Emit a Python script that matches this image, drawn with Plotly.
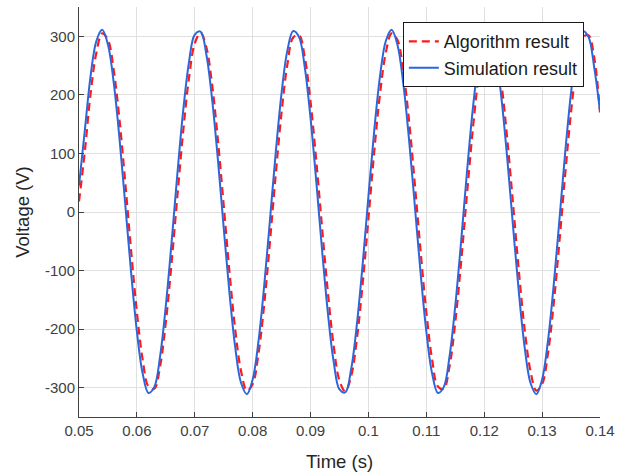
import plotly.graph_objects as go

# Sampling instants (s)
time_s = [0.050, 0.051, 0.052, 0.053, 0.054, 0.055, 0.056, 0.057, 0.058, 0.059,
          0.060, 0.061, 0.062, 0.063, 0.064, 0.065, 0.066, 0.067, 0.068, 0.069,
          0.070, 0.071, 0.072, 0.073, 0.074, 0.075, 0.076, 0.077, 0.078, 0.079,
          0.080, 0.081, 0.082, 0.083, 0.084, 0.085, 0.086, 0.087, 0.088, 0.089,
          0.090, 0.091, 0.092, 0.093, 0.094, 0.095, 0.096, 0.097, 0.098, 0.099,
          0.100, 0.101, 0.102, 0.103, 0.104, 0.105, 0.106, 0.107, 0.108, 0.109,
          0.110, 0.111, 0.112, 0.113, 0.114, 0.115, 0.116, 0.117, 0.118, 0.119,
          0.120, 0.121, 0.122, 0.123, 0.124, 0.125, 0.126, 0.127, 0.128, 0.129,
          0.130, 0.131, 0.132, 0.133, 0.134, 0.135, 0.136, 0.137, 0.138, 0.139,
          0.140]

# Algorithm result (V), red dashed
algorithm_v = [18, 103, 202, 272, 305, 294, 242, 157, 49, -66, -171, -252, -298, -302, -264, -188, -86,
               28, 138, 229, 288, 306, 281, 217, 122, 11, -103, -202, -272, -305, -294, -242, -157, -49,
               66, 171, 252, 298, 302, 264, 188, 86, -28, -138, -229, -288, -306, -281, -217, -122,
               -11, 103, 202, 272, 305, 294, 242, 157, 49, -66, -171, -252, -298, -302, -264, -188, -86,
               28, 138, 229, 288, 306, 281, 217, 122, 11, -103, -202, -272, -305, -294, -242, -157, -49,
               66, 171, 252, 298, 302, 264, 170]

# Simulation result (V), blue solid
simulation_v = [45, 139, 232, 292, 311, 286, 221, 125, 12, -103, -204, -276, -309, -299, -247, -160, -51,
                66, 173, 256, 303, 308, 269, 192, 89, -27, -139, -232, -292, -311, -286, -221, -125, -12,
                103, 204, 276, 309, 299, 247, 160, 51, -66, -173, -256, -303, -308, -269, -192, -89,
                27, 139, 232, 292, 311, 286, 221, 125, 12, -103, -204, -276, -309, -299, -247, -160, -51,
                66, 173, 256, 303, 308, 269, 192, 89, -27, -139, -232, -292, -311, -286, -221, -125, -12,
                103, 204, 276, 309, 299, 247, 172]

x_tick_vals = [0.05, 0.06, 0.07, 0.08, 0.09, 0.10, 0.11, 0.12, 0.13, 0.14]
x_tick_text = ["0.05", "0.06", "0.07", "0.08", "0.09", "0.1", "0.11", "0.12", "0.13", "0.14"]
y_tick_vals = [-300, -200, -100, 0, 100, 200, 300]
y_tick_text = ["-300", "-200", "-100", "0", "100", "200", "300"]

FONT = "Liberation Sans, Arial, Helvetica, sans-serif"
AXIS_COL = "#404040"

fig = go.Figure()
fig.add_trace(go.Scatter(
    x=time_s, y=algorithm_v, mode="lines", name="Algorithm result",
    line=dict(color="#ff1a1a", width=2.2, dash="8px,5px", shape="spline", smoothing=1.0),
))
fig.add_trace(go.Scatter(
    x=time_s, y=simulation_v, mode="lines", name="Simulation result",
    line=dict(color="#2a66dc", width=2, shape="spline", smoothing=1.0),
))

fig.update_layout(
    width=634, height=474,
    margin=dict(l=79, r=34, t=7, b=57),
    paper_bgcolor="white", plot_bgcolor="white",
    font=dict(family=FONT, size=15, color="#262626"),
    showlegend=True,
    legend=dict(
        x=0.969, y=0.963, xanchor="right", yanchor="top",
        bgcolor="white", bordercolor="#1a1a1a", borderwidth=1,
        font=dict(family=FONT, size=18, color="#1a1a1a"),
        tracegroupgap=0, itemwidth=30,
    ),
)
fig.update_xaxes(
    automargin=False,
    range=[0.05, 0.14], tickmode="array", tickvals=x_tick_vals, ticktext=x_tick_text,
    showgrid=True, gridcolor="#e0e0e0", gridwidth=1, zeroline=False,
    showline=True, linecolor=AXIS_COL, linewidth=1, mirror=False,
    ticks="inside", ticklen=5, tickcolor=AXIS_COL,
    tickfont=dict(family=FONT, size=15, color="#404040"),
    title=dict(text="Time (s)", font=dict(family=FONT, size=18.5, color="#262626"), standoff=17),
)
fig.update_yaxes(
    automargin=False,
    range=[-350, 350], tickmode="array", tickvals=y_tick_vals, ticktext=y_tick_text,
    showgrid=True, gridcolor="#e0e0e0", gridwidth=1, zeroline=False,
    showline=True, linecolor=AXIS_COL, linewidth=1, mirror=False,
    ticks="inside", ticklen=5, tickcolor=AXIS_COL,
    tickfont=dict(family=FONT, size=15, color="#404040"),
    title=dict(text="Voltage (V)", font=dict(family=FONT, size=18.5, color="#262626"), standoff=10),
)

fig.write_html("out.html")
